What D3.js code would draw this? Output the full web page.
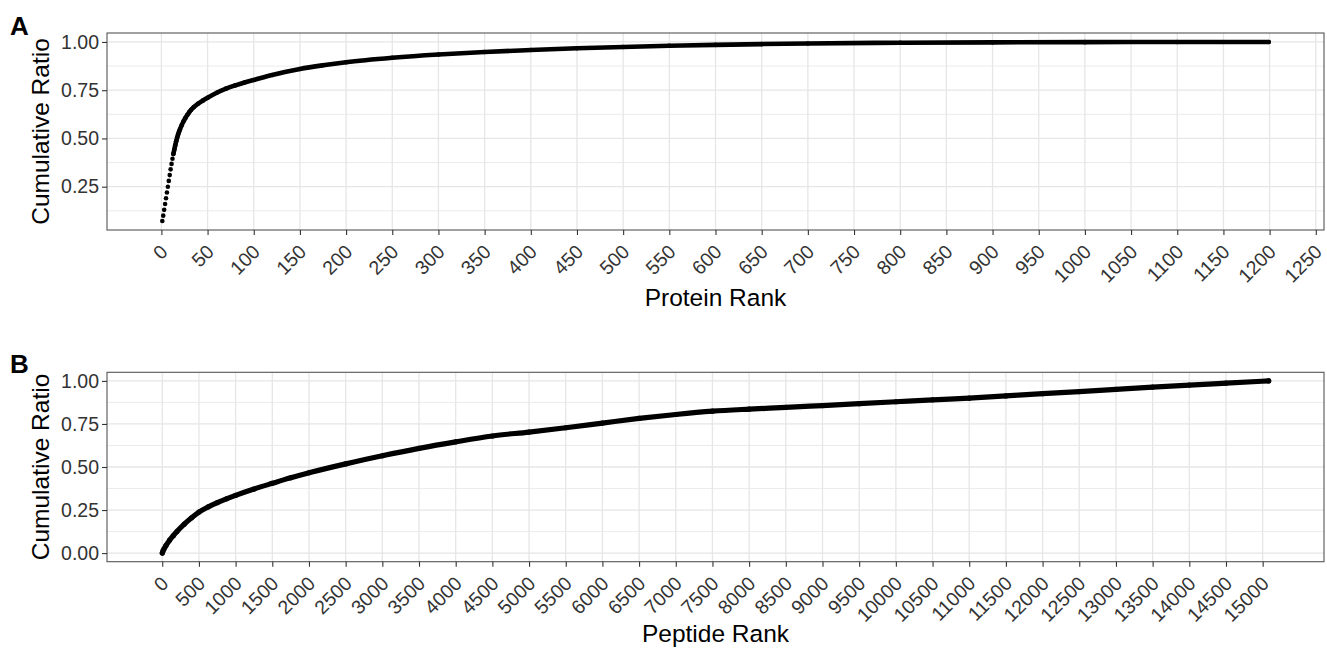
<!DOCTYPE html>
<html>
<head>
<meta charset="utf-8">
<script src="https://cdn.jsdelivr.net/npm/d3@7"></script>
<style>
  html, body { margin: 0; padding: 0; background: #fff; }
  svg { display: block; font-family: "Liberation Sans", Arial, sans-serif; }
</style>
</head>
<body>
<div id="chart"></div>
<script>
// Panel A: protein rank vs cumulative ratio
const proteinRank = [1, 2, 3, 4, 5, 6, 7, 8, 9, 10, 11, 12, 13, 14, 15, 16, 17, 18, 19, 20,
  22, 24, 26, 28, 30, 32, 35, 40, 45, 50, 60, 70, 80, 90, 100, 120, 150, 175, 200,
  250, 300, 350, 400, 450, 500, 550, 600, 650, 700, 800, 900, 1000, 1100, 1199];
const proteinRatio = [0.072, 0.100, 0.130, 0.160, 0.190, 0.220, 0.250, 0.280, 0.310, 0.340, 0.368, 0.395, 0.420, 0.443, 0.465, 0.485, 0.503, 0.519, 0.533, 0.546,
  0.569, 0.589, 0.606, 0.621, 0.635, 0.647, 0.662, 0.681, 0.697, 0.711, 0.737, 0.758, 0.775, 0.790, 0.803, 0.829, 0.860, 0.879, 0.895,
  0.918, 0.935, 0.948, 0.958, 0.967, 0.974, 0.980, 0.985, 0.989, 0.992, 0.996, 0.998, 0.999, 1.000, 1.000];

// Panel B: peptide rank vs cumulative ratio
const peptideRank = [1, 10, 25, 50, 100, 150, 200, 300, 400, 500, 625, 750, 875, 1000, 1250, 1500, 1750, 2000,
  2500, 3000, 3500, 4000, 4500, 5000, 5500, 6000, 6500, 7000, 7500, 8000, 8500, 9000, 9500,
  10000, 10500, 11000, 11500, 12000, 12500, 13000, 13500, 14000, 14500, 15082];
const peptideRatio = [0.000, 0.012, 0.025, 0.043, 0.075, 0.101, 0.125, 0.168, 0.205, 0.238, 0.268, 0.293, 0.315, 0.335, 0.372, 0.405, 0.437, 0.466,
  0.518, 0.565, 0.608, 0.646, 0.680, 0.703, 0.728, 0.755, 0.782, 0.805, 0.824, 0.836, 0.846, 0.857, 0.868,
  0.879, 0.890, 0.900, 0.913, 0.926, 0.938, 0.951, 0.964, 0.976, 0.987, 1.000];

// tick values
const proteinTicks = [0, 50, 100, 150, 200, 250, 300, 350, 400, 450, 500, 550, 600, 650, 700, 750,
  800, 850, 900, 950, 1000, 1050, 1100, 1150, 1200, 1250];
const peptideTicks = [0, 500, 1000, 1500, 2000, 2500, 3000, 3500, 4000, 4500, 5000, 5500, 6000, 6500,
  7000, 7500, 8000, 8500, 9000, 9500, 10000, 10500, 11000, 11500, 12000, 12500, 13000, 13500,
  14000, 14500, 15000];
const proteinYTicks = [0.25, 0.50, 0.75, 1.00];
const peptideYTicks = [0.00, 0.25, 0.50, 0.75, 1.00];

const width = 1327;
const height = 648;
const tickColor = '#333333';
const labelColor = '#333333';
const gridColor = '#e6e6e6';
const fontStack = '"Liberation Sans", Arial, sans-serif';

const svg = d3.select('#chart')
  .append('svg')
  .attr('width', width)
  .attr('height', height);

// ggplot-style 5% expansion on each side
function expanded(values) {
  const [lo, hi] = d3.extent(values);
  const pad = (hi - lo) * 0.05;
  return [lo - pad, hi + pad];
}

function drawPanel(opt) {
  const { left, right, top, bottom } = opt.box;
  const xs = opt.ranks, ys = opt.ratios;
  const data = xs.map((r, i) => ({ rank: r, ratio: ys[i] }));

  const x = d3.scaleLinear().domain(expanded(xs)).range([left, right]);
  const y = d3.scaleLinear().domain(expanded(ys)).range([bottom, top]);

  const g = svg.append('g');

  // minor gridlines (halfway between y breaks)
  const minorY = [];
  for (let i = 0; i < opt.yTicks.length - 1; i++) {
    minorY.push((opt.yTicks[i] + opt.yTicks[i + 1]) / 2);
  }
  const first = opt.yTicks[0] - 0.125;
  if (first >= y.domain()[0]) minorY.push(first);

  g.selectAll('.minor-y')
    .data(minorY)
    .enter()
    .append('line')
    .attr('x1', left).attr('x2', right)
    .attr('y1', d => y(d)).attr('y2', d => y(d))
    .attr('stroke', gridColor)
    .attr('stroke-width', 0.8);

  g.selectAll('.major-y')
    .data(opt.yTicks)
    .enter()
    .append('line')
    .attr('x1', left).attr('x2', right)
    .attr('y1', d => y(d)).attr('y2', d => y(d))
    .attr('stroke', gridColor)
    .attr('stroke-width', 1.3);

  g.selectAll('.major-x')
    .data(opt.xTicks)
    .enter()
    .append('line')
    .attr('x1', d => x(d)).attr('x2', d => x(d))
    .attr('y1', top).attr('y2', bottom)
    .attr('stroke', gridColor)
    .attr('stroke-width', 1.3);

  // the curve: dense part drawn as a thick line, every point as a dot
  const line = d3.line()
    .curve(d3.curveMonotoneX)
    .x(d => x(d.rank))
    .y(d => y(d.ratio));

  g.append('path')
    .datum(data.filter(d => d.rank >= opt.lineFrom))
    .attr('d', line)
    .attr('fill', 'none')
    .attr('stroke', '#000')
    .attr('stroke-width', opt.dotR * 2)
    .attr('stroke-linecap', 'round')
    .attr('stroke-linejoin', 'round');

  g.selectAll('.dot')
    .data(data)
    .enter()
    .append('circle')
    .attr('cx', d => x(d.rank))
    .attr('cy', d => y(d.ratio))
    .attr('r', opt.dotR)
    .attr('fill', '#000');

  // panel border
  g.append('rect')
    .attr('x', left).attr('y', top)
    .attr('width', right - left).attr('height', bottom - top)
    .attr('fill', 'none')
    .attr('stroke', '#555')
    .attr('stroke-width', 1.1);

  // x axis
  const xAxis = g.append('g')
    .attr('transform', `translate(0,${bottom})`)
    .call(d3.axisBottom(x).tickValues(opt.xTicks).tickSize(5).tickFormat(d3.format('d')));
  xAxis.select('.domain').remove();
  xAxis.selectAll('.tick line').attr('stroke', tickColor).attr('stroke-width', 1.1);
  xAxis.selectAll('.tick text')
    .attr('x', 0).attr('y', 0).attr('dy', null)
    .attr('text-anchor', 'end')
    .attr('transform', 'translate(7,23) rotate(-45)')
    .attr('fill', labelColor)
    .style('font-size', '19.5px')
    .style('font-family', fontStack);

  // y axis
  const yAxis = g.append('g')
    .attr('transform', `translate(${left},0)`)
    .call(d3.axisLeft(y).tickValues(opt.yTicks).tickSize(5).tickPadding(3).tickFormat(d3.format('.2f')));
  yAxis.select('.domain').remove();
  yAxis.selectAll('.tick line').attr('stroke', tickColor).attr('stroke-width', 1.1);
  yAxis.selectAll('.tick text')
    .attr('fill', labelColor)
    .style('font-size', '19.5px')
    .style('font-family', fontStack);

  // axis titles
  g.append('text')
    .attr('x', (left + right) / 2)
    .attr('y', opt.xTitleY)
    .attr('text-anchor', 'middle')
    .style('font-size', '24.5px')
    .text(opt.xTitle);

  g.append('text')
    .attr('transform', `translate(49,${(top + bottom) / 2}) rotate(-90)`)
    .attr('text-anchor', 'middle')
    .style('font-size', '24.5px')
    .text('Cumulative Ratio');

  // panel tag
  g.append('text')
    .attr('x', 10)
    .attr('y', opt.tagY)
    .style('font-size', '26px')
    .style('font-weight', 'bold')
    .text(opt.tag);
}

drawPanel({
  box: { left: 107, right: 1324, top: 33, bottom: 230 },
  ranks: proteinRank,
  ratios: proteinRatio,
  xTicks: proteinTicks,
  yTicks: proteinYTicks,
  xTitle: 'Protein Rank',
  xTitleY: 306,
  tag: 'A',
  tagY: 35,
  dotR: 2.3,
  lineFrom: 13
});

drawPanel({
  box: { left: 107, right: 1324, top: 372.3, bottom: 561.7 },
  ranks: peptideRank,
  ratios: peptideRatio,
  xTicks: peptideTicks,
  yTicks: peptideYTicks,
  xTitle: 'Peptide Rank',
  xTitleY: 642,
  tag: 'B',
  tagY: 373,
  dotR: 2.6,
  lineFrom: 0
});
</script>
</body>
</html>
